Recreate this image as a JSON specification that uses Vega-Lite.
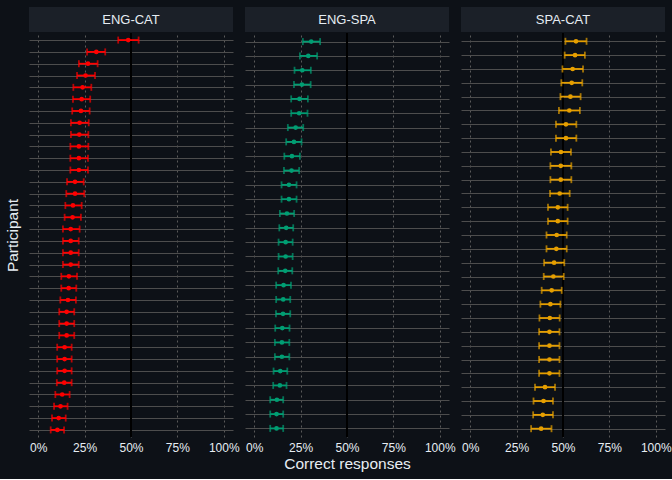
{
"$schema": "https://vega.github.io/schema/vega-lite/v6.json",
"padding": {"left": 5, "top": 7, "right": 8, "bottom": 7},
"datasets": {
"strips": [{"pair": "ENG-CAT"}, {"pair": "ENG-SPA"}, {"pair": "SPA-CAT"}],
"d": [
{"pair":"ENG-CAT","participant":"P01","prop":48.5,"lo":43.1,"hi":54.1},
{"pair":"ENG-CAT","participant":"P02","prop":31.3,"lo":26.3,"hi":36.1},
{"pair":"ENG-CAT","participant":"P03","prop":26.8,"lo":21.9,"hi":32.0},
{"pair":"ENG-CAT","participant":"P04","prop":25.5,"lo":20.9,"hi":30.6},
{"pair":"ENG-CAT","participant":"P05","prop":23.9,"lo":18.9,"hi":28.6},
{"pair":"ENG-CAT","participant":"P06","prop":23.4,"lo":18.7,"hi":28.0},
{"pair":"ENG-CAT","participant":"P07","prop":23.0,"lo":18.3,"hi":27.7},
{"pair":"ENG-CAT","participant":"P08","prop":22.3,"lo":17.6,"hi":27.2},
{"pair":"ENG-CAT","participant":"P09","prop":22.1,"lo":17.6,"hi":27.0},
{"pair":"ENG-CAT","participant":"P10","prop":21.9,"lo":17.3,"hi":27.0},
{"pair":"ENG-CAT","participant":"P11","prop":21.9,"lo":17.3,"hi":26.8},
{"pair":"ENG-CAT","participant":"P12","prop":21.9,"lo":17.3,"hi":26.8},
{"pair":"ENG-CAT","participant":"P13","prop":19.8,"lo":15.5,"hi":24.5},
{"pair":"ENG-CAT","participant":"P14","prop":19.8,"lo":15.1,"hi":24.8},
{"pair":"ENG-CAT","participant":"P15","prop":18.7,"lo":14.6,"hi":23.4},
{"pair":"ENG-CAT","participant":"P16","prop":18.5,"lo":14.2,"hi":23.0},
{"pair":"ENG-CAT","participant":"P17","prop":17.5,"lo":13.3,"hi":22.3},
{"pair":"ENG-CAT","participant":"P18","prop":17.5,"lo":13.3,"hi":21.8},
{"pair":"ENG-CAT","participant":"P19","prop":17.5,"lo":13.3,"hi":21.8},
{"pair":"ENG-CAT","participant":"P20","prop":17.5,"lo":13.3,"hi":21.8},
{"pair":"ENG-CAT","participant":"P21","prop":16.5,"lo":12.4,"hi":20.9},
{"pair":"ENG-CAT","participant":"P22","prop":16.4,"lo":12.4,"hi":20.5},
{"pair":"ENG-CAT","participant":"P23","prop":16.0,"lo":11.9,"hi":20.3},
{"pair":"ENG-CAT","participant":"P24","prop":15.3,"lo":11.3,"hi":19.4},
{"pair":"ENG-CAT","participant":"P25","prop":15.3,"lo":11.3,"hi":19.4},
{"pair":"ENG-CAT","participant":"P26","prop":15.3,"lo":11.3,"hi":19.4},
{"pair":"ENG-CAT","participant":"P27","prop":14.2,"lo":10.2,"hi":18.0},
{"pair":"ENG-CAT","participant":"P28","prop":14.2,"lo":10.2,"hi":18.0},
{"pair":"ENG-CAT","participant":"P29","prop":14.2,"lo":10.2,"hi":18.0},
{"pair":"ENG-CAT","participant":"P30","prop":14.0,"lo":10.0,"hi":18.0},
{"pair":"ENG-CAT","participant":"P31","prop":12.9,"lo":9.2,"hi":16.9},
{"pair":"ENG-CAT","participant":"P32","prop":12.0,"lo":8.5,"hi":15.8},
{"pair":"ENG-CAT","participant":"P33","prop":11.0,"lo":7.4,"hi":14.8},
{"pair":"ENG-CAT","participant":"P34","prop":10.3,"lo":6.7,"hi":13.9},
{"pair":"ENG-SPA","participant":"P01","prop":30.7,"lo":26.2,"hi":35.5},
{"pair":"ENG-SPA","participant":"P02","prop":29.1,"lo":24.6,"hi":33.9},
{"pair":"ENG-SPA","participant":"P03","prop":25.9,"lo":21.7,"hi":30.5},
{"pair":"ENG-SPA","participant":"P04","prop":25.7,"lo":21.4,"hi":30.4},
{"pair":"ENG-SPA","participant":"P05","prop":24.4,"lo":19.9,"hi":28.9},
{"pair":"ENG-SPA","participant":"P06","prop":24.2,"lo":19.9,"hi":28.7},
{"pair":"ENG-SPA","participant":"P07","prop":22.3,"lo":18.1,"hi":26.4},
{"pair":"ENG-SPA","participant":"P08","prop":21.4,"lo":17.2,"hi":25.5},
{"pair":"ENG-SPA","participant":"P09","prop":20.3,"lo":16.2,"hi":24.6},
{"pair":"ENG-SPA","participant":"P10","prop":20.1,"lo":16.0,"hi":24.2},
{"pair":"ENG-SPA","participant":"P11","prop":18.7,"lo":14.7,"hi":22.8},
{"pair":"ENG-SPA","participant":"P12","prop":18.7,"lo":14.7,"hi":22.8},
{"pair":"ENG-SPA","participant":"P13","prop":17.6,"lo":13.8,"hi":21.5},
{"pair":"ENG-SPA","participant":"P14","prop":17.2,"lo":13.5,"hi":21.0},
{"pair":"ENG-SPA","participant":"P15","prop":16.9,"lo":13.1,"hi":20.7},
{"pair":"ENG-SPA","participant":"P16","prop":16.9,"lo":13.1,"hi":20.7},
{"pair":"ENG-SPA","participant":"P17","prop":16.7,"lo":12.9,"hi":20.5},
{"pair":"ENG-SPA","participant":"P18","prop":15.8,"lo":11.8,"hi":19.8},
{"pair":"ENG-SPA","participant":"P19","prop":15.6,"lo":11.8,"hi":19.4},
{"pair":"ENG-SPA","participant":"P20","prop":15.5,"lo":11.7,"hi":19.4},
{"pair":"ENG-SPA","participant":"P21","prop":15.1,"lo":11.3,"hi":19.0},
{"pair":"ENG-SPA","participant":"P22","prop":14.9,"lo":11.1,"hi":18.9},
{"pair":"ENG-SPA","participant":"P23","prop":14.9,"lo":11.1,"hi":18.9},
{"pair":"ENG-SPA","participant":"P24","prop":14.0,"lo":10.4,"hi":17.8},
{"pair":"ENG-SPA","participant":"P25","prop":13.8,"lo":10.2,"hi":17.4},
{"pair":"ENG-SPA","participant":"P26","prop":12.2,"lo":8.6,"hi":15.6},
{"pair":"ENG-SPA","participant":"P27","prop":12.0,"lo":8.6,"hi":15.6},
{"pair":"ENG-SPA","participant":"P28","prop":12.0,"lo":8.6,"hi":15.6},
{"pair":"SPA-CAT","participant":"P01","prop":57.0,"lo":51.3,"hi":62.7},
{"pair":"SPA-CAT","participant":"P02","prop":56.5,"lo":50.9,"hi":61.8},
{"pair":"SPA-CAT","participant":"P03","prop":55.2,"lo":49.7,"hi":60.8},
{"pair":"SPA-CAT","participant":"P04","prop":54.7,"lo":49.1,"hi":60.4},
{"pair":"SPA-CAT","participant":"P05","prop":54.0,"lo":48.6,"hi":59.5},
{"pair":"SPA-CAT","participant":"P06","prop":53.4,"lo":47.8,"hi":59.1},
{"pair":"SPA-CAT","participant":"P07","prop":51.6,"lo":46.2,"hi":57.2},
{"pair":"SPA-CAT","participant":"P08","prop":51.6,"lo":46.2,"hi":57.2},
{"pair":"SPA-CAT","participant":"P09","prop":48.9,"lo":43.5,"hi":54.3},
{"pair":"SPA-CAT","participant":"P10","prop":48.8,"lo":43.2,"hi":54.5},
{"pair":"SPA-CAT","participant":"P11","prop":48.8,"lo":43.2,"hi":54.5},
{"pair":"SPA-CAT","participant":"P12","prop":48.2,"lo":43.0,"hi":53.6},
{"pair":"SPA-CAT","participant":"P13","prop":47.2,"lo":41.9,"hi":52.5},
{"pair":"SPA-CAT","participant":"P14","prop":47.2,"lo":41.9,"hi":52.5},
{"pair":"SPA-CAT","participant":"P15","prop":46.6,"lo":41.1,"hi":52.0},
{"pair":"SPA-CAT","participant":"P16","prop":46.4,"lo":41.1,"hi":52.0},
{"pair":"SPA-CAT","participant":"P17","prop":45.2,"lo":39.8,"hi":50.7},
{"pair":"SPA-CAT","participant":"P18","prop":44.8,"lo":39.6,"hi":50.4},
{"pair":"SPA-CAT","participant":"P19","prop":43.9,"lo":38.5,"hi":49.3},
{"pair":"SPA-CAT","participant":"P20","prop":43.2,"lo":37.8,"hi":48.6},
{"pair":"SPA-CAT","participant":"P21","prop":42.9,"lo":37.3,"hi":48.2},
{"pair":"SPA-CAT","participant":"P22","prop":42.7,"lo":37.1,"hi":48.1},
{"pair":"SPA-CAT","participant":"P23","prop":42.7,"lo":37.1,"hi":48.1},
{"pair":"SPA-CAT","participant":"P24","prop":42.7,"lo":37.1,"hi":48.1},
{"pair":"SPA-CAT","participant":"P25","prop":42.7,"lo":37.1,"hi":48.1},
{"pair":"SPA-CAT","participant":"P26","prop":40.3,"lo":34.9,"hi":45.7},
{"pair":"SPA-CAT","participant":"P27","prop":39.5,"lo":34.1,"hi":44.6},
{"pair":"SPA-CAT","participant":"P28","prop":39.1,"lo":33.9,"hi":44.6},
{"pair":"SPA-CAT","participant":"P29","prop":38.2,"lo":32.8,"hi":43.8}
]
},
"spacing": 5,
"hconcat": [
{
"spacing": 0,
"vconcat": [
{"data": {"name": "strips"}, "transform": [{"filter": "datum.pair == 'ENG-CAT'"}], "width": 204, "height": 25, "view": {"fill": "#1b2028", "stroke": null},
 "mark": {"type": "text", "color": "#e6edf3", "fontSize": 13, "font": "Liberation Sans"}, "encoding": {"text": {"field": "pair"}}},
{"data": {"name": "d"}, "transform": [{"filter": "datum.pair == 'ENG-CAT'"}], "width": 204, "height": 404, "view": {"stroke": null},
 "layer": [
  {"mark": {"type": "rule", "color": "#000000", "strokeWidth": 1.3}, "encoding": {"x": {"datum": 50, "type": "quantitative",
    "scale": {"domain": [-5, 105], "nice": false, "zero": false},
    "axis": {"values": [0,12.5,25,37.5,50,62.5,75,87.5,100], "labelExpr": "datum.value % 25 == 0 ? datum.value + '%' : ''", "labelOverlap": false, "labelFlush": false, "labelPadding": 5, "grid": true,
      "gridColor": {"condition": {"test": "datum.value % 25 == 0", "value": "#5a5a5a"}, "value": "#3a3a3a"},
      "gridDash": {"condition": {"test": "datum.value % 25 == 0", "value": [2, 3]}, "value": []},
      "title": null}}}},
  {"mark": {"type": "rule", "color": "#ff0000", "strokeWidth": 1.8}, "encoding": {
    "x": {"field": "lo", "type": "quantitative"}, "x2": {"field": "hi"},
    "y": {"field": "participant", "type": "ordinal", "sort": null, "scale": {"type": "point", "padding": 0.6},
      "axis": {"labels": false, "ticks": false, "domain": false, "grid": true, "gridColor": "#4d4d4d", "gridWidth": 1, "title": "Participant", "titlePadding": 9}}}},
  {"mark": {"type": "tick", "orient": "vertical", "color": "#ff0000", "size": 7, "thickness": 1.8}, "encoding": {
    "x": {"field": "lo", "type": "quantitative"}, "y": {"field": "participant", "type": "ordinal", "sort": null}}},
  {"mark": {"type": "tick", "orient": "vertical", "color": "#ff0000", "size": 7, "thickness": 1.8}, "encoding": {
    "x": {"field": "hi", "type": "quantitative"}, "y": {"field": "participant", "type": "ordinal", "sort": null}}},
  {"mark": {"type": "circle", "color": "#ff0000", "size": 22, "opacity": 1}, "encoding": {
    "x": {"field": "prop", "type": "quantitative"}, "y": {"field": "participant", "type": "ordinal", "sort": null}}}
 ]}
]
},
{
"spacing": 0,
"vconcat": [
{"data": {"name": "strips"}, "transform": [{"filter": "datum.pair == 'ENG-SPA'"}], "width": 204, "height": 25, "view": {"fill": "#1b2028", "stroke": null},
 "mark": {"type": "text", "color": "#e6edf3", "fontSize": 13, "font": "Liberation Sans"}, "encoding": {"text": {"field": "pair"}}},
{"data": {"name": "d"}, "transform": [{"filter": "datum.pair == 'ENG-SPA'"}], "width": 204, "height": 404, "view": {"stroke": null},
 "layer": [
  {"mark": {"type": "rule", "color": "#000000", "strokeWidth": 1.3}, "encoding": {"x": {"datum": 50, "type": "quantitative",
    "scale": {"domain": [-5, 105], "nice": false, "zero": false},
    "axis": {"values": [0,12.5,25,37.5,50,62.5,75,87.5,100], "labelExpr": "datum.value % 25 == 0 ? datum.value + '%' : ''", "labelOverlap": false, "labelFlush": false, "labelPadding": 5, "grid": true,
      "gridColor": {"condition": {"test": "datum.value % 25 == 0", "value": "#5a5a5a"}, "value": "#3a3a3a"},
      "gridDash": {"condition": {"test": "datum.value % 25 == 0", "value": [2, 3]}, "value": []},
      "title": "Correct responses", "titlePadding": 3}}}},
  {"mark": {"type": "rule", "color": "#009e73", "strokeWidth": 1.8}, "encoding": {
    "x": {"field": "lo", "type": "quantitative"}, "x2": {"field": "hi"},
    "y": {"field": "participant", "type": "ordinal", "sort": null, "scale": {"type": "point", "padding": 0.6},
      "axis": {"labels": false, "ticks": false, "domain": false, "grid": true, "gridColor": "#4d4d4d", "gridWidth": 1, "title": null}}}},
  {"mark": {"type": "tick", "orient": "vertical", "color": "#009e73", "size": 7, "thickness": 1.8}, "encoding": {
    "x": {"field": "lo", "type": "quantitative"}, "y": {"field": "participant", "type": "ordinal", "sort": null}}},
  {"mark": {"type": "tick", "orient": "vertical", "color": "#009e73", "size": 7, "thickness": 1.8}, "encoding": {
    "x": {"field": "hi", "type": "quantitative"}, "y": {"field": "participant", "type": "ordinal", "sort": null}}},
  {"mark": {"type": "circle", "color": "#009e73", "size": 22, "opacity": 1}, "encoding": {
    "x": {"field": "prop", "type": "quantitative"}, "y": {"field": "participant", "type": "ordinal", "sort": null}}}
 ]}
]
},
{
"spacing": 0,
"vconcat": [
{"data": {"name": "strips"}, "transform": [{"filter": "datum.pair == 'SPA-CAT'"}], "width": 204, "height": 25, "view": {"fill": "#1b2028", "stroke": null},
 "mark": {"type": "text", "color": "#e6edf3", "fontSize": 13, "font": "Liberation Sans"}, "encoding": {"text": {"field": "pair"}}},
{"data": {"name": "d"}, "transform": [{"filter": "datum.pair == 'SPA-CAT'"}], "width": 204, "height": 404, "view": {"stroke": null},
 "layer": [
  {"mark": {"type": "rule", "color": "#000000", "strokeWidth": 1.3}, "encoding": {"x": {"datum": 50, "type": "quantitative",
    "scale": {"domain": [-5, 105], "nice": false, "zero": false},
    "axis": {"values": [0,12.5,25,37.5,50,62.5,75,87.5,100], "labelExpr": "datum.value % 25 == 0 ? datum.value + '%' : ''", "labelOverlap": false, "labelFlush": false, "labelPadding": 5, "grid": true,
      "gridColor": {"condition": {"test": "datum.value % 25 == 0", "value": "#5a5a5a"}, "value": "#3a3a3a"},
      "gridDash": {"condition": {"test": "datum.value % 25 == 0", "value": [2, 3]}, "value": []},
      "title": null}}}},
  {"mark": {"type": "rule", "color": "#e69f00", "strokeWidth": 1.8}, "encoding": {
    "x": {"field": "lo", "type": "quantitative"}, "x2": {"field": "hi"},
    "y": {"field": "participant", "type": "ordinal", "sort": null, "scale": {"type": "point", "padding": 0.6},
      "axis": {"labels": false, "ticks": false, "domain": false, "grid": true, "gridColor": "#4d4d4d", "gridWidth": 1, "title": null}}}},
  {"mark": {"type": "tick", "orient": "vertical", "color": "#e69f00", "size": 7, "thickness": 1.8}, "encoding": {
    "x": {"field": "lo", "type": "quantitative"}, "y": {"field": "participant", "type": "ordinal", "sort": null}}},
  {"mark": {"type": "tick", "orient": "vertical", "color": "#e69f00", "size": 7, "thickness": 1.8}, "encoding": {
    "x": {"field": "hi", "type": "quantitative"}, "y": {"field": "participant", "type": "ordinal", "sort": null}}},
  {"mark": {"type": "circle", "color": "#e69f00", "size": 22, "opacity": 1}, "encoding": {
    "x": {"field": "prop", "type": "quantitative"}, "y": {"field": "participant", "type": "ordinal", "sort": null}}}
 ]}
]
}
],
"config": {
 "background": "#0d1117",
 "font": "Liberation Sans",
 "view": {"stroke": null},
 "axis": {"labelColor": "#e6edf3", "titleColor": "#e6edf3", "labelFontSize": 12, "titleFontSize": 15.5, "titleFontWeight": "normal", "labelFont": "Liberation Sans", "titleFont": "Liberation Sans", "domain": false, "ticks": false, "tickSize": 0}
}
}
